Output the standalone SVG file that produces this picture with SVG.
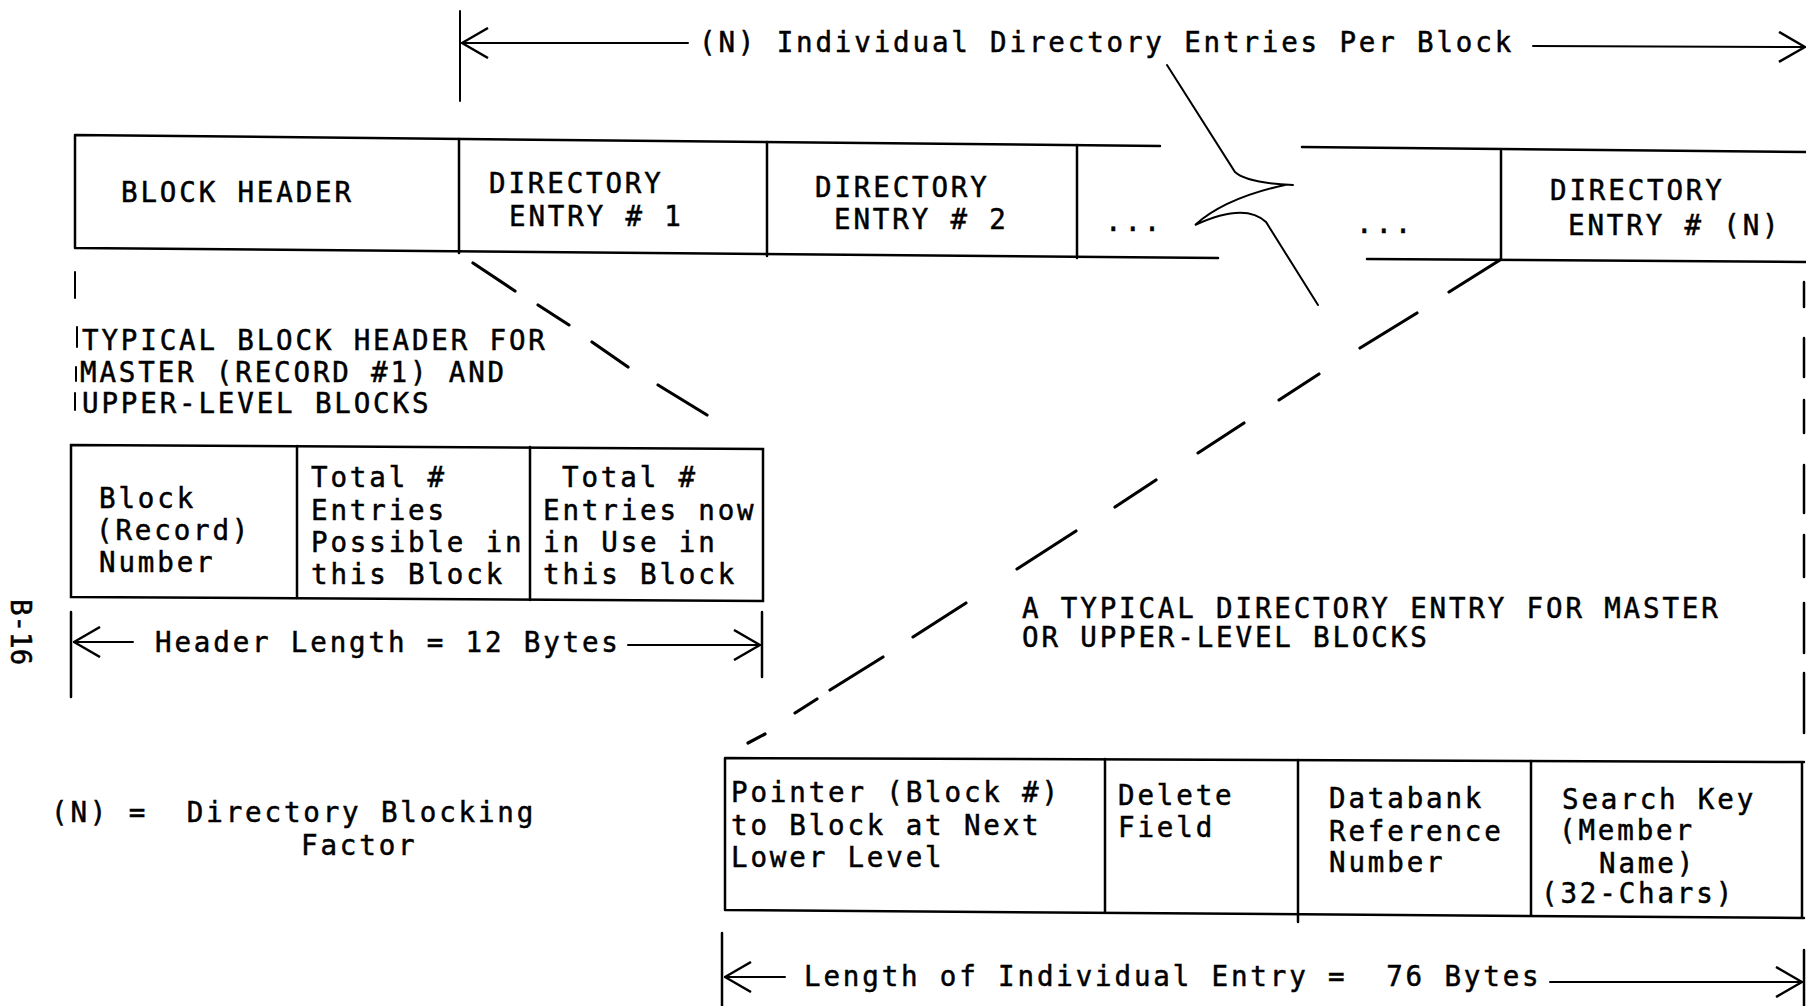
<svg xmlns="http://www.w3.org/2000/svg" width="1806" height="1006" viewBox="0 0 1806 1006">
<style>
.t{font-family:"DejaVu Sans Mono","Liberation Mono",monospace;font-size:27.5px;letter-spacing:2.85px;fill:#000;stroke:#000;stroke-width:0.5}
.ln{stroke:#000;stroke-width:2.5;fill:none;stroke-linecap:round}
.th{stroke:#000;stroke-width:2;fill:none;stroke-linecap:round}
.dash{stroke:#000;stroke-width:3.2;fill:none;stroke-linecap:round}
</style>
<defs>
<marker id="ah" viewBox="0 0 28 32" refX="27" refY="16" markerWidth="28" markerHeight="32" markerUnits="userSpaceOnUse" orient="auto-start-reverse">
<path d="M1,1 L27,16 L1,31" fill="none" stroke="#000" stroke-width="2.5"/>
</marker>
</defs>
<rect width="1806" height="1006" fill="#fff"/>

<g id="top-dimension">
<line class="th" x1="460" y1="11" x2="460" y2="101"/>
<text class="t" x="699" y="52">(N) Individual Directory Entries Per Block</text>
</g>

<g id="block-outline">
<path class="ln" d="M75,135 L1160,146 M1302,147 L1806,152 M75,248 L1218,258 M1367,259 L1806,262 M75,135 L75,248"/>
<path class="th" d="M1167,65 L1235,172 Q1247,183 1293,185 M1285,185 Q1225,198 1195,225 Q1245,202 1266,222 L1318,305"/>
</g>

<g id="block-header">
<text class="t" x="121" y="202">BLOCK HEADER</text>
</g>
<g id="dir-entry-1">
<line class="ln" x1="459" y1="139" x2="459" y2="253"/>
<text class="t" x="489" y="193">DIRECTORY</text>
<text class="t" x="509" y="226">ENTRY # 1</text>
</g>
<g id="dir-entry-2">
<line class="ln" x1="767" y1="142" x2="767" y2="256"/>
<text class="t" x="815" y="197">DIRECTORY</text>
<text class="t" x="834" y="229">ENTRY # 2</text>
</g>
<g id="dir-entry-more">
<line class="ln" x1="1077" y1="145" x2="1077" y2="258"/>
<text class="t" x="1105" y="231">...</text>
<text class="t" x="1356" y="233">...</text>
</g>
<g id="dir-entry-n">
<line class="ln" x1="1501" y1="151" x2="1501" y2="259"/>
<text class="t" x="1550" y="200">DIRECTORY</text>
<text class="t" x="1568" y="235">ENTRY # (N)</text>
</g>

<g id="header-caption">
<path class="th" d="M75,272 L75,298 M77,327 L77,347 M76,367 L76,381 M75,393 L75,410"/>
<text class="t" x="82" y="350">TYPICAL BLOCK HEADER FOR</text>
<text class="t" x="80" y="382">MASTER (RECORD #1) AND</text>
<text class="t" x="82" y="413">UPPER-LEVEL BLOCKS</text>
</g>

<g id="header-detail">
<path class="ln" d="M71,445 L763,449 L763,601 L71,597 Z"/>
<line class="ln" x1="297" y1="446" x2="297" y2="598"/>
<line class="ln" x1="530" y1="447" x2="530" y2="600"/>
<text class="t" x="99" y="508">Block</text>
<text class="t" x="96" y="540">(Record)</text>
<text class="t" x="99" y="572">Number</text>
<text class="t" x="311" y="487">Total #</text>
<text class="t" x="311" y="520">Entries</text>
<text class="t" x="311" y="552">Possible in</text>
<text class="t" x="311" y="584">this Block</text>
<text class="t" x="562" y="487">Total #</text>
<text class="t" x="543" y="520">Entries now</text>
<text class="t" x="543" y="552">in Use in</text>
<text class="t" x="543" y="584">this Block</text>
</g>

<g id="header-length">
<line class="ln" x1="71" y1="612" x2="71" y2="697"/>
<line class="ln" x1="762" y1="612" x2="762" y2="677"/>
<text class="t" x="155" y="652">Header Length = 12 Bytes</text>
</g>

<g id="page-number">
<text class="t" x="0" y="0" transform="translate(11,599) rotate(90)" style="letter-spacing:0">B-16</text>
</g>

<g id="blocking-factor">
<text class="t" x="51" y="822" xml:space="preserve">(N) =  Directory Blocking</text>
<text class="t" x="301" y="855">Factor</text>
</g>

<g id="entry-caption">
<text class="t" x="1022" y="618">A TYPICAL DIRECTORY ENTRY FOR MASTER</text>
<text class="t" x="1022" y="647">OR UPPER-LEVEL BLOCKS</text>
</g>

<g id="entry-detail">
<path class="ln" d="M725,758 L1804,762 M725,910 L1804,918 M725,758 L725,910 M1802,762 L1802,918"/>
<line class="ln" x1="1105" y1="759" x2="1105" y2="912"/>
<line class="ln" x1="1298" y1="760" x2="1298" y2="922"/>
<line class="ln" x1="1531" y1="761" x2="1531" y2="915"/>
<text class="t" x="731" y="802">Pointer (Block #)</text>
<text class="t" x="731" y="835">to Block at Next</text>
<text class="t" x="731" y="867">Lower Level</text>
<text class="t" x="1118" y="805">Delete</text>
<text class="t" x="1118" y="837">Field</text>
<text class="t" x="1329" y="808">Databank</text>
<text class="t" x="1329" y="841">Reference</text>
<text class="t" x="1329" y="872">Number</text>
<text class="t" x="1562" y="809">Search Key</text>
<text class="t" x="1559" y="840">(Member</text>
<text class="t" x="1599" y="873">Name)</text>
<text class="t" x="1541" y="903">(32-Chars)</text>
</g>

<g id="entry-length">
<line class="ln" x1="722" y1="933" x2="722" y2="1006"/>
<line class="ln" x1="1804" y1="950" x2="1804" y2="1006"/>
<text class="t" x="804" y="986" xml:space="preserve">Length of Individual Entry =  76 Bytes</text>
</g>

<g id="right-edge">
<path class="ln" d="M1804,282 L1804,307 M1804,338 L1804,377 M1804,400 L1804,433 M1804,465 L1804,513 M1804,535 L1804,577 M1804,603 L1804,653 M1804,673 L1804,733"/>
</g>

<g id="connectors">
<line class="th" x1="688" y1="43" x2="462" y2="43" marker-end="url(#ah)"/>
<line class="th" x1="1533" y1="46" x2="1805" y2="47" marker-end="url(#ah)"/>
<line class="th" x1="133" y1="642" x2="74" y2="642" marker-end="url(#ah)"/>
<line class="th" x1="628" y1="645" x2="760" y2="645" marker-end="url(#ah)"/>
<line class="th" x1="785" y1="977" x2="725" y2="977" marker-end="url(#ah)"/>
<line class="th" x1="1550" y1="982" x2="1802" y2="982" marker-end="url(#ah)"/>
<path class="dash" d="M473,263 L515,291 M538,305 L569,325 M592,342 L628,367 M658,385 L707,415"/>
<path class="dash" d="M1500,260 L1449,292 M1417,313 L1360,348 M1319,374 L1279,400 M1244,423 L1198,453 M1156,480 L1115,507 M1076,531 L1017,569 M966,603 L913,637 M883,657 L830,690 M817,699 L795,713 M765,734 L748,743"/>
</g>
</svg>
